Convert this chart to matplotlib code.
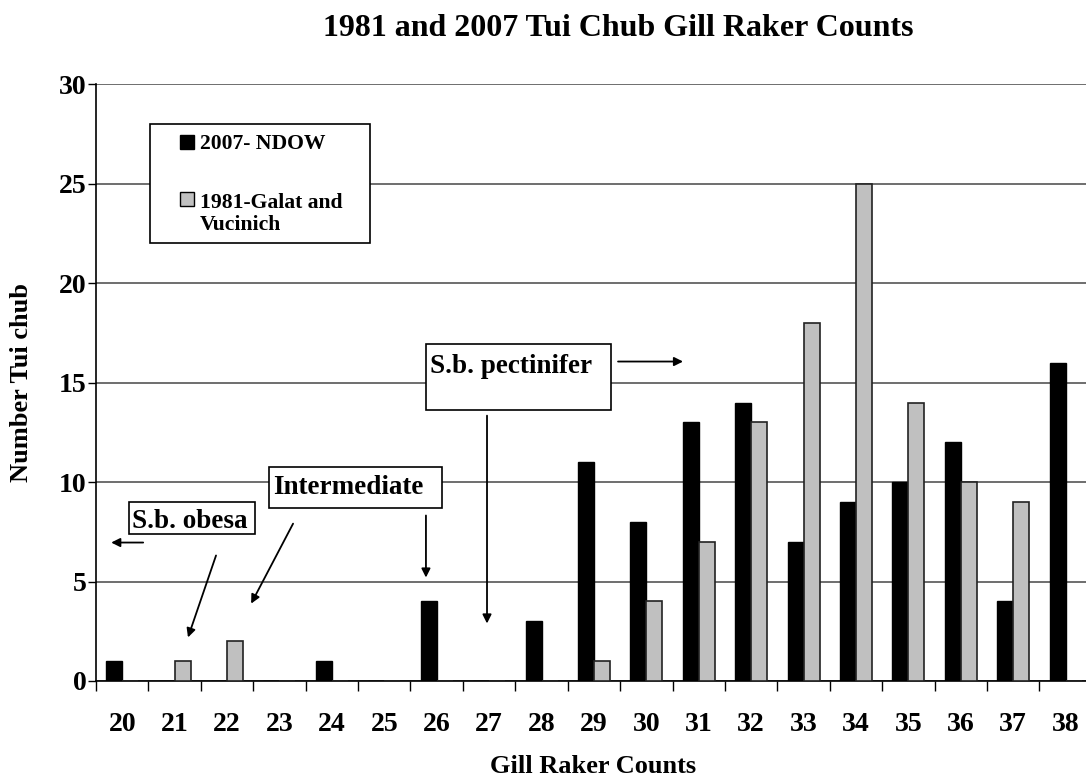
import matplotlib.pyplot as plt
from matplotlib.patches import Rectangle
import numpy as np

plt.rcParams['font.family'] = ['Liberation Serif', 'DejaVu Serif']
plt.rcParams['font.weight'] = 'bold'

counts = ['20', '21', '22', '23', '24', '25', '26', '27', '28', '29',
          '30', '31', '32', '33', '34', '35', '36', '37', '38']
ndow_2007 = [1, 0, 0, 0, 1, 0, 4, 0, 3, 11, 8, 13, 14, 7, 9, 10, 12, 4, 16]
galat_1981 = [0, 1, 2, 0, 0, 0, 0, 0, 0, 1, 4, 7, 13, 18, 25, 14, 10, 9, 0]
labels = ['2007- NDOW', '1981-Galat and\nVucinich']
colors = ['black', '#c0c0c0']

fig = plt.figure(figsize=(10.86, 7.78), dpi=100)
# axes run a little past the right edge, like the cropped original
ax = fig.add_axes([0.0884, 0.1247, 0.917, 0.767])

x = np.arange(len(counts))
w = 0.305
ax.bar(x - w / 2, ndow_2007, w, color=colors[0], edgecolor='black', lw=1,
       zorder=3)
ax.bar(x + w / 2, galat_1981, w, color=colors[1], edgecolor='#222222', lw=1.2,
       zorder=3)

ax.set_xlim(-0.5, len(counts) - 0.5)
ax.set_ylim(0, 30)
ax.set_yticks(range(0, 31, 5))
ax.tick_params(axis='y', direction='out', length=6, width=1, labelsize=20, pad=1)
ax.yaxis.grid(True, color='#555555', lw=1.2, zorder=0)

# tick marks between categories, labels at centres
ax.set_xticks(np.arange(-0.5, len(counts), 1))
ax.set_xticklabels([])
ax.set_xticks(x, minor=True)
ax.set_xticklabels(counts, minor=True)
ax.tick_params(axis='x', which='major', direction='out', length=7, width=1)
ax.tick_params(axis='x', which='minor', length=0, labelsize=20, pad=22)

for s in ['top', 'right']:
    ax.spines[s].set_visible(False)
ax.spines['left'].set_linewidth(1.2)
ax.spines['bottom'].set_linewidth(1.2)

fig.text(0.569, 0.963, '1981 and 2007 Tui Chub Gill Raker Counts',
         ha='center', va='center', fontsize=23, fontweight='bold')
fig.text(0.546, 0.0067, 'Gill Raker Counts', ha='center', va='baseline',
         fontsize=19, fontweight='bold')
fig.text(0.020, 0.508, 'Number Tui chub', ha='center', va='center',
         rotation=90, fontsize=19, fontweight='bold')

# legend drawn by hand so the grey key sits on the first text line
ax.add_patch(Rectangle((0.0542, 0.7337), 0.2209, 0.1993, transform=ax.transAxes,
                       fc='white', ec='black', lw=1.2, zorder=5))
key_y = [0.8911, 0.7956]
txt_y = [0.8911, 0.7554]   # baseline of the last line of each label
for c, lab, ky, ty in zip(colors, labels, key_y, txt_y):
    ax.add_patch(Rectangle((0.0843, ky), 0.0141, 0.0234, transform=ax.transAxes,
                           fc=c, ec='black', lw=1, zorder=6))
    ax.text(0.1044, ty, lab, transform=ax.transAxes, ha='left', va='baseline',
            fontsize=15.6, linespacing=1.15, zorder=7)

arw = dict(arrowstyle='-|>', color='black', lw=1.3, mutation_scale=13,
           shrinkA=0, shrinkB=0)

def label_box(x0, y0, x1, y1, tx, ty, s, ha):
    ax.add_patch(Rectangle((x0, y0), x1 - x0, y1 - y0, fc='white', ec='black',
                           lw=1.2, zorder=5))
    ax.text(tx, ty, s, ha=ha, va='baseline', fontsize=19.5, zorder=6)

label_box(0.13, 7.41, 2.533, 9.02, 1.293, 7.71, 'S.b. obesa', 'center')
ax.annotate('', xy=(-0.21, 6.96), xytext=(0.40, 6.96), arrowprops=arw)
ax.annotate('', xy=(1.255, 2.19), xytext=(1.79, 6.31), arrowprops=arw)

label_box(2.80, 8.72, 6.10, 10.78, 4.307, 9.42, 'Intermediate', 'center')
ax.annotate('', xy=(2.46, 3.89), xytext=(3.26, 7.91), arrowprops=arw)
ax.annotate('', xy=(5.795, 5.20), xytext=(5.795, 8.32), arrowprops=arw)

label_box(5.795, 13.64, 9.324, 16.96, 5.872, 15.50, 'S.b. pectinifer', 'left')
ax.annotate('', xy=(10.70, 16.06), xytext=(9.46, 16.06), arrowprops=arw)
ax.annotate('', xy=(6.96, 2.89), xytext=(6.96, 13.34), arrowprops=arw)

fig.savefig('out.png', dpi=100)
